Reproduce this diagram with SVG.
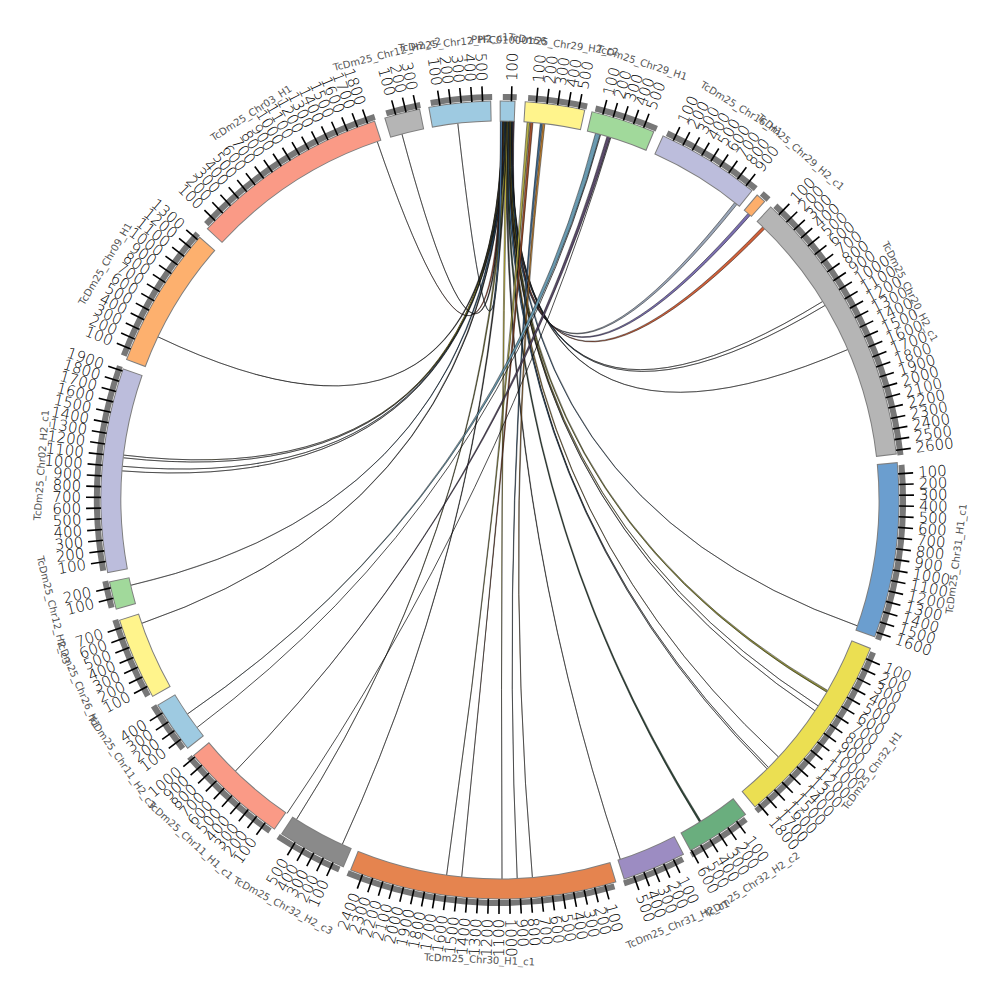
<svg xmlns="http://www.w3.org/2000/svg" xmlns:xlink="http://www.w3.org/1999/xlink" width="1000" height="1000" viewBox="0 0 1000 1000">
<style>
.n{font-family:"DejaVu Sans",sans-serif;font-size:15px;font-weight:200;dominant-baseline:central;fill:#000}
.r{text-anchor:start}
.l{text-anchor:end}
.lab{font-family:"DejaVu Sans",sans-serif;font-size:10px;font-weight:400;fill:#555;text-anchor:middle;dominant-baseline:central}
.ol{fill:none;stroke:#7f7f7f;stroke-width:21}
.bd{fill:none;stroke-width:19}
.gs{fill:none;stroke:#777;stroke-width:6}
.tk{stroke:#000;stroke-width:1.6}
.ln{fill:none;stroke:#000;stroke-width:0.7}
.rb{stroke:#000;stroke-width:0.45;stroke-linejoin:round}
</style>
<defs>
<line id="a" class="tk" x1="899" y1="500" x2="914" y2="500"/>
<line id="b" class="tk" x1="86" y1="500" x2="101" y2="500"/>
</defs>
<rect width="1000" height="1000" fill="#fff"/>
<g id="links">
<path class="rb" fill="#9aa6b8" d="M512.5,121 Q500,500 737.1,204.3 L734.7,202.5 Q500,500 514.3,121 Z"/>
<path class="rb" fill="#7b6fb0" d="M512.05,121 Q500,500 750.2,215.4 L748.0,213.4 Q500,500 513.85,121 Z"/>
<path class="rb" fill="#d0603a" d="M511.6,121 Q500,500 764.9,228.8 L762.7,226.8 Q500,500 513.4,121 Z"/>
<path class="rb" fill="#444" d="M511.15,121 Q500,500 822.8,301.4 Q500,500 512.95,121 Z"/>
<path class="rb" fill="#5a8fc0" d="M510.7,121 Q500,500 825.1,305.4 Q500,500 512.5,121 Z"/>
<path class="rb" fill="#333" d="M510.25,121 Q500,500 847.8,349.5 Q500,500 512.05,121 Z"/>
<path class="rb" fill="#3f6f9a" d="M509.8,121 Q500,500 857.5,625.9 Q500,500 511.6,121 Z"/>
<path class="rb" fill="#8a8a3a" d="M509.35,121 Q500,500 826.7,692.2 L827.7,690.4 Q500,500 511.15,121 Z"/>
<path class="rb" fill="#e8d84a" d="M508.9,121 Q500,500 818.2,705.9 Q500,500 510.7,121 Z"/>
<path class="rb" fill="#333" d="M508.45,121 Q500,500 815.0,710.8 Q500,500 510.25,121 Z"/>
<path class="rb" fill="#c8a040" d="M508.0,121 Q500,500 778.5,757.0 Q500,500 509.8,121 Z"/>
<path class="rb" fill="#333" d="M507.55,121 Q500,500 768.5,767.5 Q500,500 509.35,121 Z"/>
<path class="rb" fill="#5a8fc0" d="M507.1,121 Q500,500 767.1,768.9 Q500,500 508.9,121 Z"/>
<path class="rb" fill="#2f4a3a" d="M506.65,121 Q500,500 699.5,822.3 L701.1,821.3 Q500,500 508.45,121 Z"/>
<path class="rb" fill="#444" d="M506.2,121 Q500,500 620.3,859.4 Q500,500 508.0,121 Z"/>
<path class="rb" fill="#e8d84a" d="M505.75,121 Q500,500 502.0,879.0 Q500,500 507.55,121 Z"/>
<path class="rb" fill="#333" d="M505.3,121 Q500,500 342.2,844.6 Q500,500 507.1,121 Z"/>
<path class="rb" fill="#8a8a3a" d="M504.85,121 Q500,500 296.4,819.6 Q500,500 506.65,121 Z"/>
<path class="rb" fill="#333" d="M504.4,121 Q500,500 141.6,623.4 Q500,500 506.2,121 Z"/>
<path class="rb" fill="#3f6f9a" d="M503.95,121 Q500,500 130.7,585.3 Q500,500 505.75,121 Z"/>
<path class="rb" fill="#444" d="M503.5,121 Q500,500 122.1,470.9 Q500,500 505.3,121 Z"/>
<path class="rb" fill="#5a8fc0" d="M503.05,121 Q500,500 122.5,466.3 Q500,500 504.85,121 Z"/>
<path class="rb" fill="#333" d="M502.6,121 Q500,500 123.4,457.8 Q500,500 504.4,121 Z"/>
<path class="rb" fill="#e8d84a" d="M502.15,121 Q500,500 123.7,455.1 Q500,500 503.95,121 Z"/>
<path class="rb" fill="#333" d="M501.7,121 Q500,500 157.9,336.8 Q500,500 503.5,121 Z"/>
<path class="rb" fill="#c8553a" d="M501.25,121 Q500,500 377.2,141.4 Q500,500 503.05,121 Z"/>
<path class="rb" fill="#333" d="M500.8,121 Q500,500 401.9,133.9 Q500,500 502.6,121 Z"/>
<path class="rb" fill="#5a8fc0" d="M500.35,121 Q500,500 457.8,123.4 Q500,500 502.15,121 Z"/>
<path class="rb" fill="#b5b04a" d="M527.1,122 Q500,500 446.6,875.2 Q500,500 529.7,122.2 Z"/>
<path class="rb" fill="#a0502e" d="M530.4,122.2 Q500,500 461.7,877.1 Q500,500 533.0,122.4 Z"/>
<path class="rb" fill="#3f6f9a" d="M540.3,123.1 Q500,500 517.2,878.6 Q500,500 542.2,123.4 Z"/>
<path class="rb" fill="#c08030" d="M542.9,123.4 Q500,500 532.4,877.6 Q500,500 544.9,123.7 Z"/>
<path class="rb" fill="#6a9ab0" d="M595.5,133.2 Q500,500 187.3,714.1 Q500,500 600.0,134.4 Z"/>
<path class="rb" fill="#5a4a6a" d="M607.0,136.4 Q500,500 235.3,771.2 Q500,500 610.2,137.4 Z"/>
<path class="ln" d="M600.6,134.6 Q500,500 196.9,727.6"/>
<path class="ln" d="M610.8,137.6 Q500,500 287.0,813.5"/>
</g>
<g id="s1">
<circle class="gs" cx="500" cy="500" r="403" stroke-dasharray="14.07 3000" transform="rotate(-89.6 500 500)"/>
<circle class="ol" cx="500" cy="500" r="389" stroke-dasharray="15.62 3000" transform="rotate(-90.05 500 500)"/>
<circle class="bd" cx="500" cy="500" r="389" stroke="#9ecae1" stroke-dasharray="13.58 3000" transform="rotate(-89.9 500 500)"/>
<g transform="rotate(-88.36 500 500)"><use href="#a"/><text class="n r" x="919" y="500">100</text></g>
<text class="lab" x="500" y="40" transform="rotate(1.1 500 500)">PPFC01000156</text>
</g>
<g id="s2">
<circle class="gs" cx="500" cy="500" r="403" stroke-dasharray="59.79 3000" transform="rotate(-86.0 500 500)"/>
<circle class="ol" cx="500" cy="500" r="389" stroke-dasharray="59.75 3000" transform="rotate(-86.45 500 500)"/>
<circle class="bd" cx="500" cy="500" r="389" stroke="#fff48c" stroke-dasharray="57.71 3000" transform="rotate(-86.3 500 500)"/>
<g transform="rotate(-84.76 500 500)"><use href="#a"/><text class="n r" x="919" y="500">100</text></g>
<g transform="rotate(-83.22 500 500)"><use href="#a"/><text class="n r" x="919" y="500">200</text></g>
<g transform="rotate(-81.68 500 500)"><use href="#a"/><text class="n r" x="919" y="500">300</text></g>
<g transform="rotate(-80.14 500 500)"><use href="#a"/><text class="n r" x="919" y="500">400</text></g>
<g transform="rotate(-78.60 500 500)"><use href="#a"/><text class="n r" x="919" y="500">500</text></g>
<text class="lab" x="500" y="40" transform="rotate(7.95 500 500)">TcDm25_Chr29_H2_c2</text>
</g>
<g id="s3">
<circle class="gs" cx="500" cy="500" r="403" stroke-dasharray="64.71 3000" transform="rotate(-76.3 500 500)"/>
<circle class="ol" cx="500" cy="500" r="389" stroke-dasharray="64.50 3000" transform="rotate(-76.75 500 500)"/>
<circle class="bd" cx="500" cy="500" r="389" stroke="#a1d99b" stroke-dasharray="62.46 3000" transform="rotate(-76.6 500 500)"/>
<g transform="rotate(-75.06 500 500)"><use href="#a"/><text class="n r" x="919" y="500">100</text></g>
<g transform="rotate(-73.52 500 500)"><use href="#a"/><text class="n r" x="919" y="500">200</text></g>
<g transform="rotate(-71.98 500 500)"><use href="#a"/><text class="n r" x="919" y="500">300</text></g>
<g transform="rotate(-70.44 500 500)"><use href="#a"/><text class="n r" x="919" y="500">400</text></g>
<g transform="rotate(-68.90 500 500)"><use href="#a"/><text class="n r" x="919" y="500">500</text></g>
<text class="lab" x="500" y="40" transform="rotate(18.0 500 500)">TcDm25_Chr29_H1</text>
</g>
<g id="s4">
<circle class="gs" cx="500" cy="500" r="403" stroke-dasharray="104.80 3000" transform="rotate(-65.5 500 500)"/>
<circle class="ol" cx="500" cy="500" r="389" stroke-dasharray="103.20 3000" transform="rotate(-65.95 500 500)"/>
<circle class="bd" cx="500" cy="500" r="389" stroke="#bcbddc" stroke-dasharray="101.16 3000" transform="rotate(-65.8 500 500)"/>
<g transform="rotate(-64.26 500 500)"><use href="#a"/><text class="n r" x="919" y="500">100</text></g>
<g transform="rotate(-62.72 500 500)"><use href="#a"/><text class="n r" x="919" y="500">200</text></g>
<g transform="rotate(-61.18 500 500)"><use href="#a"/><text class="n r" x="919" y="500">300</text></g>
<g transform="rotate(-59.64 500 500)"><use href="#a"/><text class="n r" x="919" y="500">400</text></g>
<g transform="rotate(-58.10 500 500)"><use href="#a"/><text class="n r" x="919" y="500">500</text></g>
<g transform="rotate(-56.56 500 500)"><use href="#a"/><text class="n r" x="919" y="500">600</text></g>
<g transform="rotate(-55.02 500 500)"><use href="#a"/><text class="n r" x="919" y="500">700</text></g>
<g transform="rotate(-53.48 500 500)"><use href="#a"/><text class="n r" x="919" y="500">800</text></g>
<g transform="rotate(-51.94 500 500)"><use href="#a"/><text class="n r" x="919" y="500">900</text></g>
<text class="lab" x="500" y="40" transform="rotate(31.65 500 500)">TcDm25_Chr16_H1</text>
</g>
<g id="s5">
<circle class="gs" cx="500" cy="500" r="403" stroke-dasharray="9.14 3000" transform="rotate(-49.5 500 500)"/>
<circle class="ol" cx="500" cy="500" r="389" stroke-dasharray="10.86 3000" transform="rotate(-49.95 500 500)"/>
<circle class="bd" cx="500" cy="500" r="389" stroke="#fdae6b" stroke-dasharray="8.83 3000" transform="rotate(-49.8 500 500)"/>
<text class="lab" x="500" y="40" transform="rotate(40.85 500 500)">TcDm25_Chr29_H2_c1</text>
</g>
<g id="s6">
<circle class="gs" cx="500" cy="500" r="403" stroke-dasharray="284.86 3000" transform="rotate(-46.9 500 500)"/>
<circle class="ol" cx="500" cy="500" r="389" stroke-dasharray="277.00 3000" transform="rotate(-47.35 500 500)"/>
<circle class="bd" cx="500" cy="500" r="389" stroke="#b5b5b5" stroke-dasharray="274.97 3000" transform="rotate(-47.2 500 500)"/>
<g transform="rotate(-45.66 500 500)"><use href="#a"/><text class="n r" x="919" y="500">100</text></g>
<g transform="rotate(-44.12 500 500)"><use href="#a"/><text class="n r" x="919" y="500">200</text></g>
<g transform="rotate(-42.58 500 500)"><use href="#a"/><text class="n r" x="919" y="500">300</text></g>
<g transform="rotate(-41.04 500 500)"><use href="#a"/><text class="n r" x="919" y="500">400</text></g>
<g transform="rotate(-39.50 500 500)"><use href="#a"/><text class="n r" x="919" y="500">500</text></g>
<g transform="rotate(-37.96 500 500)"><use href="#a"/><text class="n r" x="919" y="500">600</text></g>
<g transform="rotate(-36.42 500 500)"><use href="#a"/><text class="n r" x="919" y="500">700</text></g>
<g transform="rotate(-34.88 500 500)"><use href="#a"/><text class="n r" x="919" y="500">800</text></g>
<g transform="rotate(-33.34 500 500)"><use href="#a"/><text class="n r" x="919" y="500">900</text></g>
<g transform="rotate(-31.80 500 500)"><use href="#a"/><text class="n r" x="919" y="500">1000</text></g>
<g transform="rotate(-30.26 500 500)"><use href="#a"/><text class="n r" x="919" y="500">1100</text></g>
<g transform="rotate(-28.72 500 500)"><use href="#a"/><text class="n r" x="919" y="500">1200</text></g>
<g transform="rotate(-27.18 500 500)"><use href="#a"/><text class="n r" x="919" y="500">1300</text></g>
<g transform="rotate(-25.64 500 500)"><use href="#a"/><text class="n r" x="919" y="500">1400</text></g>
<g transform="rotate(-24.10 500 500)"><use href="#a"/><text class="n r" x="919" y="500">1500</text></g>
<g transform="rotate(-22.56 500 500)"><use href="#a"/><text class="n r" x="919" y="500">1600</text></g>
<g transform="rotate(-21.02 500 500)"><use href="#a"/><text class="n r" x="919" y="500">1700</text></g>
<g transform="rotate(-19.48 500 500)"><use href="#a"/><text class="n r" x="919" y="500">1800</text></g>
<g transform="rotate(-17.94 500 500)"><use href="#a"/><text class="n r" x="919" y="500">1900</text></g>
<g transform="rotate(-16.40 500 500)"><use href="#a"/><text class="n r" x="919" y="500">2000</text></g>
<g transform="rotate(-14.86 500 500)"><use href="#a"/><text class="n r" x="919" y="500">2100</text></g>
<g transform="rotate(-13.32 500 500)"><use href="#a"/><text class="n r" x="919" y="500">2200</text></g>
<g transform="rotate(-11.78 500 500)"><use href="#a"/><text class="n r" x="919" y="500">2300</text></g>
<g transform="rotate(-10.24 500 500)"><use href="#a"/><text class="n r" x="919" y="500">2400</text></g>
<g transform="rotate(-8.70 500 500)"><use href="#a"/><text class="n r" x="919" y="500">2500</text></g>
<g transform="rotate(-7.16 500 500)"><use href="#a"/><text class="n r" x="919" y="500">2600</text></g>
<text class="lab" x="500" y="40" transform="rotate(63.05 500 500)">TcDm25_Chr20_H2_c1</text>
</g>
<g id="s7">
<circle class="gs" cx="500" cy="500" r="403" stroke-dasharray="177.95 3000" transform="rotate(-5.0 500 500)"/>
<circle class="ol" cx="500" cy="500" r="389" stroke-dasharray="173.81 3000" transform="rotate(-5.45 500 500)"/>
<circle class="bd" cx="500" cy="500" r="389" stroke="#6b9ecf" stroke-dasharray="171.77 3000" transform="rotate(-5.3 500 500)"/>
<g transform="rotate(-3.76 500 500)"><use href="#a"/><text class="n r" x="919" y="500">100</text></g>
<g transform="rotate(-2.22 500 500)"><use href="#a"/><text class="n r" x="919" y="500">200</text></g>
<g transform="rotate(-0.68 500 500)"><use href="#a"/><text class="n r" x="919" y="500">300</text></g>
<g transform="rotate(0.86 500 500)"><use href="#a"/><text class="n r" x="919" y="500">400</text></g>
<g transform="rotate(2.40 500 500)"><use href="#a"/><text class="n r" x="919" y="500">500</text></g>
<g transform="rotate(3.94 500 500)"><use href="#a"/><text class="n r" x="919" y="500">600</text></g>
<g transform="rotate(5.48 500 500)"><use href="#a"/><text class="n r" x="919" y="500">700</text></g>
<g transform="rotate(7.02 500 500)"><use href="#a"/><text class="n r" x="919" y="500">800</text></g>
<g transform="rotate(8.56 500 500)"><use href="#a"/><text class="n r" x="919" y="500">900</text></g>
<g transform="rotate(10.10 500 500)"><use href="#a"/><text class="n r" x="919" y="500">1000</text></g>
<g transform="rotate(11.64 500 500)"><use href="#a"/><text class="n r" x="919" y="500">1100</text></g>
<g transform="rotate(13.18 500 500)"><use href="#a"/><text class="n r" x="919" y="500">1200</text></g>
<g transform="rotate(14.72 500 500)"><use href="#a"/><text class="n r" x="919" y="500">1300</text></g>
<g transform="rotate(16.26 500 500)"><use href="#a"/><text class="n r" x="919" y="500">1400</text></g>
<g transform="rotate(17.80 500 500)"><use href="#a"/><text class="n r" x="919" y="500">1500</text></g>
<g transform="rotate(19.34 500 500)"><use href="#a"/><text class="n r" x="919" y="500">1600</text></g>
<text class="lab" x="500" y="960" transform="rotate(-82.65 500 500)">TcDm25_Chr31_H1_c1</text>
</g>
<g id="s8">
<circle class="gs" cx="500" cy="500" r="403" stroke-dasharray="199.05 3000" transform="rotate(22.2 500 500)"/>
<circle class="ol" cx="500" cy="500" r="389" stroke-dasharray="194.17 3000" transform="rotate(21.75 500 500)"/>
<circle class="bd" cx="500" cy="500" r="389" stroke="#ebdf52" stroke-dasharray="192.14 3000" transform="rotate(21.9 500 500)"/>
<g transform="rotate(23.44 500 500)"><use href="#a"/><text class="n r" x="919" y="500">100</text></g>
<g transform="rotate(24.98 500 500)"><use href="#a"/><text class="n r" x="919" y="500">200</text></g>
<g transform="rotate(26.52 500 500)"><use href="#a"/><text class="n r" x="919" y="500">300</text></g>
<g transform="rotate(28.06 500 500)"><use href="#a"/><text class="n r" x="919" y="500">400</text></g>
<g transform="rotate(29.60 500 500)"><use href="#a"/><text class="n r" x="919" y="500">500</text></g>
<g transform="rotate(31.14 500 500)"><use href="#a"/><text class="n r" x="919" y="500">600</text></g>
<g transform="rotate(32.68 500 500)"><use href="#a"/><text class="n r" x="919" y="500">700</text></g>
<g transform="rotate(34.22 500 500)"><use href="#a"/><text class="n r" x="919" y="500">800</text></g>
<g transform="rotate(35.76 500 500)"><use href="#a"/><text class="n r" x="919" y="500">900</text></g>
<g transform="rotate(37.30 500 500)"><use href="#a"/><text class="n r" x="919" y="500">1000</text></g>
<g transform="rotate(38.84 500 500)"><use href="#a"/><text class="n r" x="919" y="500">1100</text></g>
<g transform="rotate(40.38 500 500)"><use href="#a"/><text class="n r" x="919" y="500">1200</text></g>
<g transform="rotate(41.92 500 500)"><use href="#a"/><text class="n r" x="919" y="500">1300</text></g>
<g transform="rotate(43.46 500 500)"><use href="#a"/><text class="n r" x="919" y="500">1400</text></g>
<g transform="rotate(45.00 500 500)"><use href="#a"/><text class="n r" x="919" y="500">1500</text></g>
<g transform="rotate(46.54 500 500)"><use href="#a"/><text class="n r" x="919" y="500">1600</text></g>
<g transform="rotate(48.08 500 500)"><use href="#a"/><text class="n r" x="919" y="500">1700</text></g>
<g transform="rotate(49.62 500 500)"><use href="#a"/><text class="n r" x="919" y="500">1800</text></g>
<text class="lab" x="500" y="960" transform="rotate(-53.95 500 500)">TcDm25_Chr32_H1</text>
</g>
<g id="s9">
<circle class="gs" cx="500" cy="500" r="403" stroke-dasharray="65.41 3000" transform="rotate(52.4 500 500)"/>
<circle class="ol" cx="500" cy="500" r="389" stroke-dasharray="65.18 3000" transform="rotate(51.95 500 500)"/>
<circle class="bd" cx="500" cy="500" r="389" stroke="#6aae7e" stroke-dasharray="63.14 3000" transform="rotate(52.1 500 500)"/>
<g transform="rotate(53.64 500 500)"><use href="#a"/><text class="n r" x="919" y="500">100</text></g>
<g transform="rotate(55.18 500 500)"><use href="#a"/><text class="n r" x="919" y="500">200</text></g>
<g transform="rotate(56.72 500 500)"><use href="#a"/><text class="n r" x="919" y="500">300</text></g>
<g transform="rotate(58.26 500 500)"><use href="#a"/><text class="n r" x="919" y="500">400</text></g>
<g transform="rotate(59.80 500 500)"><use href="#a"/><text class="n r" x="919" y="500">500</text></g>
<g transform="rotate(61.34 500 500)"><use href="#a"/><text class="n r" x="919" y="500">600</text></g>
<text class="lab" x="500" y="960" transform="rotate(-33.25 500 500)">TcDm25_Chr32_H2_c2</text>
</g>
<g id="s10">
<circle class="gs" cx="500" cy="500" r="403" stroke-dasharray="64.01 3000" transform="rotate(63.0 500 500)"/>
<circle class="ol" cx="500" cy="500" r="389" stroke-dasharray="63.82 3000" transform="rotate(62.55 500 500)"/>
<circle class="bd" cx="500" cy="500" r="389" stroke="#9c8cc2" stroke-dasharray="61.78 3000" transform="rotate(62.7 500 500)"/>
<g transform="rotate(64.24 500 500)"><use href="#a"/><text class="n r" x="919" y="500">100</text></g>
<g transform="rotate(65.78 500 500)"><use href="#a"/><text class="n r" x="919" y="500">200</text></g>
<g transform="rotate(67.32 500 500)"><use href="#a"/><text class="n r" x="919" y="500">300</text></g>
<g transform="rotate(68.86 500 500)"><use href="#a"/><text class="n r" x="919" y="500">400</text></g>
<g transform="rotate(70.40 500 500)"><use href="#a"/><text class="n r" x="919" y="500">500</text></g>
<text class="lab" x="500" y="960" transform="rotate(-22.75 500 500)">TcDm25_Chr31_H2_c1</text>
</g>
<g id="s11">
<circle class="gs" cx="500" cy="500" r="403" stroke-dasharray="272.20 3000" transform="rotate(73.5 500 500)"/>
<circle class="ol" cx="500" cy="500" r="389" stroke-dasharray="264.78 3000" transform="rotate(73.05 500 500)"/>
<circle class="bd" cx="500" cy="500" r="389" stroke="#e5844f" stroke-dasharray="262.75 3000" transform="rotate(73.2 500 500)"/>
<g transform="rotate(74.74 500 500)"><use href="#a"/><text class="n r" x="919" y="500">100</text></g>
<g transform="rotate(76.28 500 500)"><use href="#a"/><text class="n r" x="919" y="500">200</text></g>
<g transform="rotate(77.82 500 500)"><use href="#a"/><text class="n r" x="919" y="500">300</text></g>
<g transform="rotate(79.36 500 500)"><use href="#a"/><text class="n r" x="919" y="500">400</text></g>
<g transform="rotate(80.90 500 500)"><use href="#a"/><text class="n r" x="919" y="500">500</text></g>
<g transform="rotate(82.44 500 500)"><use href="#a"/><text class="n r" x="919" y="500">600</text></g>
<g transform="rotate(83.98 500 500)"><use href="#a"/><text class="n r" x="919" y="500">700</text></g>
<g transform="rotate(85.52 500 500)"><use href="#a"/><text class="n r" x="919" y="500">800</text></g>
<g transform="rotate(87.06 500 500)"><use href="#a"/><text class="n r" x="919" y="500">900</text></g>
<g transform="rotate(88.60 500 500)"><use href="#a"/><text class="n r" x="919" y="500">1000</text></g>
<g transform="rotate(-89.86 500 500)"><use href="#b"/><text class="n l" x="81" y="500">1100</text></g>
<g transform="rotate(-88.32 500 500)"><use href="#b"/><text class="n l" x="81" y="500">1200</text></g>
<g transform="rotate(-86.78 500 500)"><use href="#b"/><text class="n l" x="81" y="500">1300</text></g>
<g transform="rotate(-85.24 500 500)"><use href="#b"/><text class="n l" x="81" y="500">1400</text></g>
<g transform="rotate(-83.70 500 500)"><use href="#b"/><text class="n l" x="81" y="500">1500</text></g>
<g transform="rotate(-82.16 500 500)"><use href="#b"/><text class="n l" x="81" y="500">1600</text></g>
<g transform="rotate(-80.62 500 500)"><use href="#b"/><text class="n l" x="81" y="500">1700</text></g>
<g transform="rotate(-79.08 500 500)"><use href="#b"/><text class="n l" x="81" y="500">1800</text></g>
<g transform="rotate(-77.54 500 500)"><use href="#b"/><text class="n l" x="81" y="500">1900</text></g>
<g transform="rotate(-76.00 500 500)"><use href="#b"/><text class="n l" x="81" y="500">2000</text></g>
<g transform="rotate(-74.46 500 500)"><use href="#b"/><text class="n l" x="81" y="500">2100</text></g>
<g transform="rotate(-72.92 500 500)"><use href="#b"/><text class="n l" x="81" y="500">2200</text></g>
<g transform="rotate(-71.38 500 500)"><use href="#b"/><text class="n l" x="81" y="500">2300</text></g>
<g transform="rotate(-69.84 500 500)"><use href="#b"/><text class="n l" x="81" y="500">2400</text></g>
<text class="lab" x="500" y="960" transform="rotate(2.55 500 500)">TcDm25_Chr30_H1_c1</text>
</g>
<g id="s12">
<circle class="gs" cx="500" cy="500" r="403" stroke-dasharray="69.63 3000" transform="rotate(113.5 500 500)"/>
<circle class="ol" cx="500" cy="500" r="389" stroke-dasharray="69.25 3000" transform="rotate(113.05 500 500)"/>
<circle class="bd" cx="500" cy="500" r="389" stroke="#8a8a8a" stroke-dasharray="67.21 3000" transform="rotate(113.2 500 500)"/>
<g transform="rotate(-65.26 500 500)"><use href="#b"/><text class="n l" x="81" y="500">100</text></g>
<g transform="rotate(-63.72 500 500)"><use href="#b"/><text class="n l" x="81" y="500">200</text></g>
<g transform="rotate(-62.18 500 500)"><use href="#b"/><text class="n l" x="81" y="500">300</text></g>
<g transform="rotate(-60.64 500 500)"><use href="#b"/><text class="n l" x="81" y="500">400</text></g>
<g transform="rotate(-59.10 500 500)"><use href="#b"/><text class="n l" x="81" y="500">500</text></g>
<text class="lab" x="500" y="960" transform="rotate(28.15 500 500)">TcDm25_Chr32_H2_c3</text>
</g>
<g id="s13">
<circle class="gs" cx="500" cy="500" r="403" stroke-dasharray="109.73 3000" transform="rotate(124.8 500 500)"/>
<circle class="ol" cx="500" cy="500" r="389" stroke-dasharray="107.95 3000" transform="rotate(124.35 500 500)"/>
<circle class="bd" cx="500" cy="500" r="389" stroke="#fa9a86" stroke-dasharray="105.91 3000" transform="rotate(124.5 500 500)"/>
<g transform="rotate(-53.96 500 500)"><use href="#b"/><text class="n l" x="81" y="500">100</text></g>
<g transform="rotate(-52.42 500 500)"><use href="#b"/><text class="n l" x="81" y="500">200</text></g>
<g transform="rotate(-50.88 500 500)"><use href="#b"/><text class="n l" x="81" y="500">300</text></g>
<g transform="rotate(-49.34 500 500)"><use href="#b"/><text class="n l" x="81" y="500">400</text></g>
<g transform="rotate(-47.80 500 500)"><use href="#b"/><text class="n l" x="81" y="500">500</text></g>
<g transform="rotate(-46.26 500 500)"><use href="#b"/><text class="n l" x="81" y="500">600</text></g>
<g transform="rotate(-44.72 500 500)"><use href="#b"/><text class="n l" x="81" y="500">700</text></g>
<g transform="rotate(-43.18 500 500)"><use href="#b"/><text class="n l" x="81" y="500">800</text></g>
<g transform="rotate(-41.64 500 500)"><use href="#b"/><text class="n l" x="81" y="500">900</text></g>
<g transform="rotate(-40.10 500 500)"><use href="#b"/><text class="n l" x="81" y="500">1000</text></g>
<text class="lab" x="500" y="960" transform="rotate(42.3 500 500)">TcDm25_Chr11_H1_c1</text>
</g>
<g id="s14">
<circle class="gs" cx="500" cy="500" r="403" stroke-dasharray="52.05 3000" transform="rotate(141.9 500 500)"/>
<circle class="ol" cx="500" cy="500" r="389" stroke-dasharray="52.28 3000" transform="rotate(141.45 500 500)"/>
<circle class="bd" cx="500" cy="500" r="389" stroke="#9ecae1" stroke-dasharray="50.24 3000" transform="rotate(141.6 500 500)"/>
<g transform="rotate(-36.86 500 500)"><use href="#b"/><text class="n l" x="81" y="500">100</text></g>
<g transform="rotate(-35.32 500 500)"><use href="#b"/><text class="n l" x="81" y="500">200</text></g>
<g transform="rotate(-33.78 500 500)"><use href="#b"/><text class="n l" x="81" y="500">300</text></g>
<g transform="rotate(-32.24 500 500)"><use href="#b"/><text class="n l" x="81" y="500">400</text></g>
<text class="lab" x="500" y="960" transform="rotate(55.3 500 500)">TcDm25_Chr11_H2_c3</text>
</g>
<g id="s15">
<circle class="gs" cx="500" cy="500" r="403" stroke-dasharray="83.00 3000" transform="rotate(150.9 500 500)"/>
<circle class="ol" cx="500" cy="500" r="389" stroke-dasharray="82.15 3000" transform="rotate(150.45 500 500)"/>
<circle class="bd" cx="500" cy="500" r="389" stroke="#fff48c" stroke-dasharray="80.11 3000" transform="rotate(150.6 500 500)"/>
<g transform="rotate(-27.86 500 500)"><use href="#b"/><text class="n l" x="81" y="500">100</text></g>
<g transform="rotate(-26.32 500 500)"><use href="#b"/><text class="n l" x="81" y="500">200</text></g>
<g transform="rotate(-24.78 500 500)"><use href="#b"/><text class="n l" x="81" y="500">300</text></g>
<g transform="rotate(-23.24 500 500)"><use href="#b"/><text class="n l" x="81" y="500">400</text></g>
<g transform="rotate(-21.70 500 500)"><use href="#b"/><text class="n l" x="81" y="500">500</text></g>
<g transform="rotate(-20.16 500 500)"><use href="#b"/><text class="n l" x="81" y="500">600</text></g>
<g transform="rotate(-18.62 500 500)"><use href="#b"/><text class="n l" x="81" y="500">700</text></g>
<text class="lab" x="500" y="960" transform="rotate(66.5 500 500)">TcDm25_Chr26_H1</text>
</g>
<g id="s16">
<circle class="gs" cx="500" cy="500" r="403" stroke-dasharray="27.43 3000" transform="rotate(164.5 500 500)"/>
<circle class="ol" cx="500" cy="500" r="389" stroke-dasharray="28.52 3000" transform="rotate(164.05 500 500)"/>
<circle class="bd" cx="500" cy="500" r="389" stroke="#a1d99b" stroke-dasharray="26.48 3000" transform="rotate(164.2 500 500)"/>
<g transform="rotate(-14.26 500 500)"><use href="#b"/><text class="n l" x="81" y="500">100</text></g>
<g transform="rotate(-12.72 500 500)"><use href="#b"/><text class="n l" x="81" y="500">200</text></g>
<text class="lab" x="500" y="960" transform="rotate(76.15 500 500)">TcDm25_Chr12_H2_c3</text>
</g>
<g id="s17">
<circle class="gs" cx="500" cy="500" r="403" stroke-dasharray="207.49 3000" transform="rotate(169.9 500 500)"/>
<circle class="ol" cx="500" cy="500" r="389" stroke-dasharray="202.32 3000" transform="rotate(169.45 500 500)"/>
<circle class="bd" cx="500" cy="500" r="389" stroke="#bcbddc" stroke-dasharray="200.28 3000" transform="rotate(169.6 500 500)"/>
<g transform="rotate(-8.86 500 500)"><use href="#b"/><text class="n l" x="81" y="500">100</text></g>
<g transform="rotate(-7.32 500 500)"><use href="#b"/><text class="n l" x="81" y="500">200</text></g>
<g transform="rotate(-5.78 500 500)"><use href="#b"/><text class="n l" x="81" y="500">300</text></g>
<g transform="rotate(-4.24 500 500)"><use href="#b"/><text class="n l" x="81" y="500">400</text></g>
<g transform="rotate(-2.70 500 500)"><use href="#b"/><text class="n l" x="81" y="500">500</text></g>
<g transform="rotate(-1.16 500 500)"><use href="#b"/><text class="n l" x="81" y="500">600</text></g>
<g transform="rotate(0.38 500 500)"><use href="#b"/><text class="n l" x="81" y="500">700</text></g>
<g transform="rotate(1.92 500 500)"><use href="#b"/><text class="n l" x="81" y="500">800</text></g>
<g transform="rotate(3.46 500 500)"><use href="#b"/><text class="n l" x="81" y="500">900</text></g>
<g transform="rotate(5.00 500 500)"><use href="#b"/><text class="n l" x="81" y="500">1000</text></g>
<g transform="rotate(6.54 500 500)"><use href="#b"/><text class="n l" x="81" y="500">1100</text></g>
<g transform="rotate(8.08 500 500)"><use href="#b"/><text class="n l" x="81" y="500">1200</text></g>
<g transform="rotate(9.62 500 500)"><use href="#b"/><text class="n l" x="81" y="500">1300</text></g>
<g transform="rotate(11.16 500 500)"><use href="#b"/><text class="n l" x="81" y="500">1400</text></g>
<g transform="rotate(12.70 500 500)"><use href="#b"/><text class="n l" x="81" y="500">1500</text></g>
<g transform="rotate(14.24 500 500)"><use href="#b"/><text class="n l" x="81" y="500">1600</text></g>
<g transform="rotate(15.78 500 500)"><use href="#b"/><text class="n l" x="81" y="500">1700</text></g>
<g transform="rotate(17.32 500 500)"><use href="#b"/><text class="n l" x="81" y="500">1800</text></g>
<g transform="rotate(18.86 500 500)"><use href="#b"/><text class="n l" x="81" y="500">1900</text></g>
<text class="lab" x="500" y="40" transform="rotate(-85.65 500 500)">TcDm25_Chr02_H2_c1</text>
</g>
<g id="s18">
<circle class="gs" cx="500" cy="500" r="403" stroke-dasharray="143.49 3000" transform="rotate(201.0 500 500)"/>
<circle class="ol" cx="500" cy="500" r="389" stroke-dasharray="140.54 3000" transform="rotate(200.55 500 500)"/>
<circle class="bd" cx="500" cy="500" r="389" stroke="#fdb06e" stroke-dasharray="138.50 3000" transform="rotate(200.7 500 500)"/>
<g transform="rotate(22.24 500 500)"><use href="#b"/><text class="n l" x="81" y="500">100</text></g>
<g transform="rotate(23.78 500 500)"><use href="#b"/><text class="n l" x="81" y="500">200</text></g>
<g transform="rotate(25.32 500 500)"><use href="#b"/><text class="n l" x="81" y="500">300</text></g>
<g transform="rotate(26.86 500 500)"><use href="#b"/><text class="n l" x="81" y="500">400</text></g>
<g transform="rotate(28.40 500 500)"><use href="#b"/><text class="n l" x="81" y="500">500</text></g>
<g transform="rotate(29.94 500 500)"><use href="#b"/><text class="n l" x="81" y="500">600</text></g>
<g transform="rotate(31.48 500 500)"><use href="#b"/><text class="n l" x="81" y="500">700</text></g>
<g transform="rotate(33.02 500 500)"><use href="#b"/><text class="n l" x="81" y="500">800</text></g>
<g transform="rotate(34.56 500 500)"><use href="#b"/><text class="n l" x="81" y="500">900</text></g>
<g transform="rotate(36.10 500 500)"><use href="#b"/><text class="n l" x="81" y="500">1000</text></g>
<g transform="rotate(37.64 500 500)"><use href="#b"/><text class="n l" x="81" y="500">1100</text></g>
<g transform="rotate(39.18 500 500)"><use href="#b"/><text class="n l" x="81" y="500">1200</text></g>
<g transform="rotate(40.72 500 500)"><use href="#b"/><text class="n l" x="81" y="500">1300</text></g>
<text class="lab" x="500" y="40" transform="rotate(-59.1 500 500)">TcDm25_Chr09_H1</text>
</g>
<g id="s19">
<circle class="gs" cx="500" cy="500" r="403" stroke-dasharray="201.87 3000" transform="rotate(223.2 500 500)"/>
<circle class="ol" cx="500" cy="500" r="389" stroke-dasharray="196.89 3000" transform="rotate(222.75 500 500)"/>
<circle class="bd" cx="500" cy="500" r="389" stroke="#fa9a86" stroke-dasharray="194.85 3000" transform="rotate(222.9 500 500)"/>
<g transform="rotate(44.44 500 500)"><use href="#b"/><text class="n l" x="81" y="500">100</text></g>
<g transform="rotate(45.98 500 500)"><use href="#b"/><text class="n l" x="81" y="500">200</text></g>
<g transform="rotate(47.52 500 500)"><use href="#b"/><text class="n l" x="81" y="500">300</text></g>
<g transform="rotate(49.06 500 500)"><use href="#b"/><text class="n l" x="81" y="500">400</text></g>
<g transform="rotate(50.60 500 500)"><use href="#b"/><text class="n l" x="81" y="500">500</text></g>
<g transform="rotate(52.14 500 500)"><use href="#b"/><text class="n l" x="81" y="500">600</text></g>
<g transform="rotate(53.68 500 500)"><use href="#b"/><text class="n l" x="81" y="500">700</text></g>
<g transform="rotate(55.22 500 500)"><use href="#b"/><text class="n l" x="81" y="500">800</text></g>
<g transform="rotate(56.76 500 500)"><use href="#b"/><text class="n l" x="81" y="500">900</text></g>
<g transform="rotate(58.30 500 500)"><use href="#b"/><text class="n l" x="81" y="500">1000</text></g>
<g transform="rotate(59.84 500 500)"><use href="#b"/><text class="n l" x="81" y="500">1100</text></g>
<g transform="rotate(61.38 500 500)"><use href="#b"/><text class="n l" x="81" y="500">1200</text></g>
<g transform="rotate(62.92 500 500)"><use href="#b"/><text class="n l" x="81" y="500">1300</text></g>
<g transform="rotate(64.46 500 500)"><use href="#b"/><text class="n l" x="81" y="500">1400</text></g>
<g transform="rotate(66.00 500 500)"><use href="#b"/><text class="n l" x="81" y="500">1500</text></g>
<g transform="rotate(67.54 500 500)"><use href="#b"/><text class="n l" x="81" y="500">1600</text></g>
<g transform="rotate(69.08 500 500)"><use href="#b"/><text class="n l" x="81" y="500">1700</text></g>
<g transform="rotate(70.62 500 500)"><use href="#b"/><text class="n l" x="81" y="500">1800</text></g>
<text class="lab" x="500" y="40" transform="rotate(-32.75 500 500)">TcDm25_Chr03_H1</text>
</g>
<g id="s20">
<circle class="gs" cx="500" cy="500" r="403" stroke-dasharray="35.17 3000" transform="rotate(253.6 500 500)"/>
<circle class="ol" cx="500" cy="500" r="389" stroke-dasharray="35.98 3000" transform="rotate(253.15 500 500)"/>
<circle class="bd" cx="500" cy="500" r="389" stroke="#b5b5b5" stroke-dasharray="33.95 3000" transform="rotate(253.3 500 500)"/>
<g transform="rotate(74.84 500 500)"><use href="#b"/><text class="n l" x="81" y="500">100</text></g>
<g transform="rotate(76.38 500 500)"><use href="#b"/><text class="n l" x="81" y="500">200</text></g>
<g transform="rotate(77.92 500 500)"><use href="#b"/><text class="n l" x="81" y="500">300</text></g>
<text class="lab" x="500" y="40" transform="rotate(-14.2 500 500)">TcDm25_Chr12_H2_c2</text>
</g>
<g id="s21">
<circle class="gs" cx="500" cy="500" r="403" stroke-dasharray="61.90 3000" transform="rotate(260.1 500 500)"/>
<circle class="ol" cx="500" cy="500" r="389" stroke-dasharray="61.78 3000" transform="rotate(259.65 500 500)"/>
<circle class="bd" cx="500" cy="500" r="389" stroke="#9ecae1" stroke-dasharray="59.75 3000" transform="rotate(259.8 500 500)"/>
<g transform="rotate(81.34 500 500)"><use href="#b"/><text class="n l" x="81" y="500">100</text></g>
<g transform="rotate(82.88 500 500)"><use href="#b"/><text class="n l" x="81" y="500">200</text></g>
<g transform="rotate(84.42 500 500)"><use href="#b"/><text class="n l" x="81" y="500">300</text></g>
<g transform="rotate(85.96 500 500)"><use href="#b"/><text class="n l" x="81" y="500">400</text></g>
<g transform="rotate(87.50 500 500)"><use href="#b"/><text class="n l" x="81" y="500">500</text></g>
<text class="lab" x="500" y="40" transform="rotate(-5.8 500 500)">TcDm25_Chr12_H2_c1</text>
</g>
</svg>
